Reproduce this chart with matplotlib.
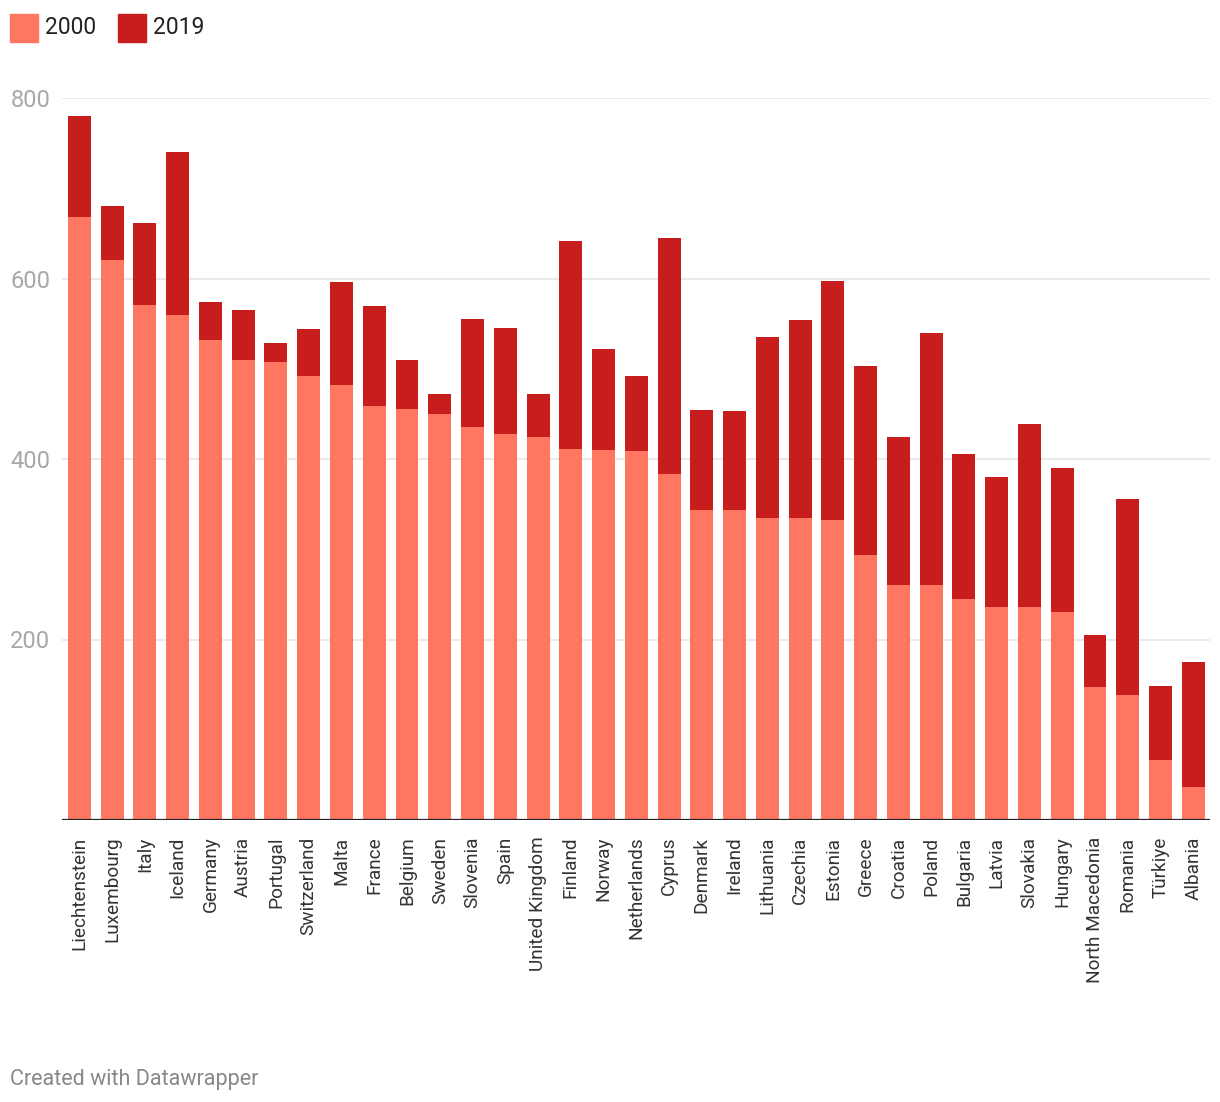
import matplotlib
matplotlib.use("Agg")
import matplotlib.pyplot as plt
from matplotlib.patches import Rectangle

plt.rcParams["font.family"] = ["Roboto", "DejaVu Sans"]

# ── data ──
countries = [
    "Liechtenstein", "Luxembourg", "Italy", "Iceland", "Germany", "Austria",
    "Portugal", "Switzerland", "Malta", "France", "Belgium", "Sweden",
    "Slovenia", "Spain", "United Kingdom", "Finland", "Norway", "Netherlands",
    "Cyprus", "Denmark", "Ireland", "Lithuania", "Czechia", "Estonia",
    "Greece", "Croatia", "Poland", "Bulgaria", "Latvia", "Slovakia",
    "Hungary", "North Macedonia", "Romania", "Türkiye", "Albania",
]
values_2000 = [
    668, 621, 571, 560, 532, 510, 508, 492, 482, 459, 455, 450,
    436, 428, 424, 411, 410, 409, 383, 344, 343, 335, 335, 332,
    294, 260, 260, 245, 236, 236, 231, 147, 138, 67, 37,
]
values_2019 = [
    780, 680, 662, 740, 574, 565, 529, 544, 596, 570, 510, 472,
    555, 545, 472, 641, 522, 492, 645, 454, 453, 535, 554, 597,
    503, 424, 540, 406, 380, 439, 390, 205, 356, 149, 175,
]
yticks = [200, 400, 600, 800]
series_names = ["2000", "2019"]

COL_2000 = "#ff7661"
COL_2019 = "#c71e1d"

W, H = 1220, 1102
fig = plt.figure(figsize=(W / 100, H / 100), dpi=100)
ax = fig.add_axes([62 / W, 1 - 820 / H, (1210 - 62) / W, (820 - 98) / H])

xs = range(len(countries))
ax.bar(xs, values_2019, width=0.70, color=COL_2019, zorder=2)
ax.bar(xs, values_2000, width=0.70, color=COL_2000, zorder=3)

ax.set_xlim(-0.53, 34.51)
ax.set_ylim(0, 800)

# grid + baseline
for t in yticks:
    ax.axhline(t, color="#e6e6e6", lw=1.2, zorder=1)
ax.axhline(0, color="#222222", lw=1.6, zorder=4)

for s in ax.spines.values():
    s.set_visible(False)

ax.set_yticks(yticks)
ax.set_yticklabels([str(t) for t in yticks])
ax.tick_params(axis="y", length=0, pad=8.5, labelsize=17, labelcolor="#a8a8a8")

ax.set_xticks(list(xs))
ax.set_xticklabels(countries, rotation=90, va="top", ha="center")
ax.tick_params(axis="x", length=0, pad=12, labelsize=13.7, labelcolor="#333333")

# legend
lx = 10
for name, col in zip(series_names, [COL_2000, COL_2019]):
    fig.add_artist(Rectangle((lx / W, 1 - 42 / H), 28 / W, 28 / H,
                             transform=fig.transFigure, color=col))
    fig.text((lx + 35) / W, 1 - 27 / H, name, fontsize=16.5, color="#222222",
             va="center", ha="left")
    lx += 108

fig.text(10 / W, 1 - 1079 / H, "Created with Datawrapper", fontsize=15.5,
         color="#888888", va="center", ha="left")

fig.savefig("out.png", dpi=100, facecolor="white")
